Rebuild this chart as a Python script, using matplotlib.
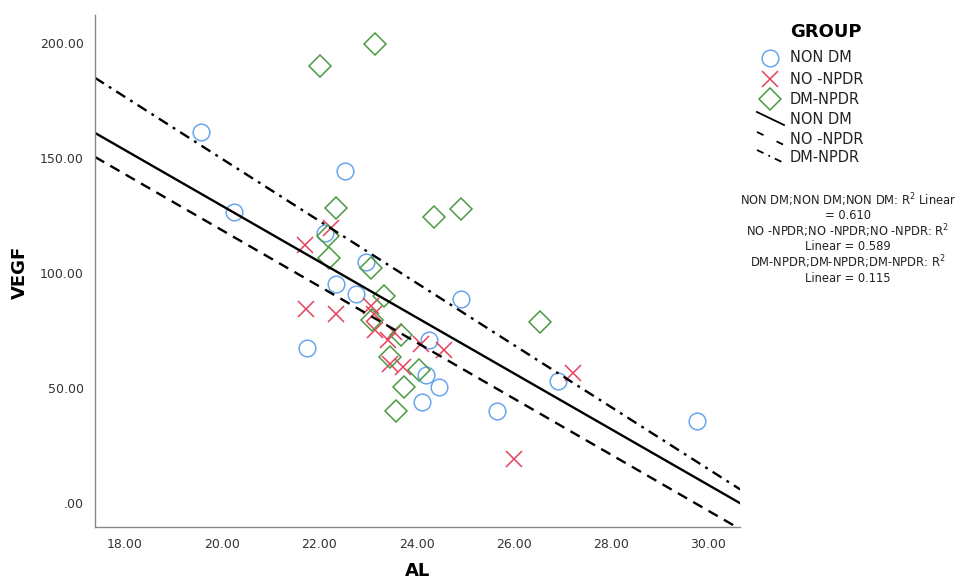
import numpy as np
import matplotlib
matplotlib.use('Agg')
import matplotlib.pyplot as plt

# NON DM
non_dm_al = [19.57, 20.25, 22.52, 22.12, 21.75, 22.33, 22.76, 22.95, 24.91, 24.25,
             24.19, 24.45, 24.12, 25.65, 26.91, 29.77]
non_dm_vegf = [161.3, 126.5, 144.3, 117.4, 67.4, 95.2, 90.9, 104.8, 88.7, 70.9,
               55.7, 50.4, 43.9, 40.0, 53.0, 35.7]

# NO -NPDR
no_npdr_al = [21.71, 21.73, 22.23, 22.35, 23.07, 23.13, 23.15, 23.40, 23.53, 23.46,
              23.71, 24.08, 24.56, 26.00, 27.22]
no_npdr_vegf = [112.2, 84.3, 119.6, 82.2, 85.7, 82.2, 75.2, 70.9, 74.3, 60.4,
                59.1, 69.1, 66.5, 19.1, 56.5]

# DM-NPDR
dm_npdr_al = [22.02, 23.15, 22.33, 22.17, 24.35, 24.91, 26.54, 22.19, 23.05, 23.32,
              23.09, 23.67, 23.46, 24.04, 23.73, 23.57]
dm_npdr_vegf = [190.0, 199.6, 128.3, 116.0, 124.3, 127.8, 78.7, 106.5, 102.2, 90.0,
                79.6, 73.0, 63.5, 57.8, 50.4, 40.0]

# fit lines (intercept, slope) as drawn in the chart
fit_non_dm = (371.5, -12.12)
fit_no_npdr = (362.1, -12.18)
fit_dm_npdr = (418.9, -13.47)

groups = ['NON DM', 'NO -NPDR', 'DM-NPDR']
r2_values = ['0.610', '0.589', '0.115']

blue = '#6aa6ee'
red = '#e8405a'
green = '#4b9a44'
dash_ls = (0, (4.5, 3))
dashdot_ls = (0, (4.5, 2.5, 1.2, 2.5))


def main():
    fig = plt.figure(figsize=(9.69, 5.83), dpi=100)
    ax = fig.add_axes([0.098, 0.096, 0.666, 0.878])

    ax.plot(non_dm_al, non_dm_vegf, 'o', ms=12, mfc='none', mec=blue, mew=1.1)
    ax.plot(no_npdr_al, no_npdr_vegf, 'x', ms=11, mec=red, mew=1.1)
    ax.plot(dm_npdr_al, dm_npdr_vegf, 'D', ms=11, mfc='none', mec=green, mew=1.1)

    xlim = (17.38, 30.66)
    xs = np.array(xlim)
    ax.plot(xs, fit_non_dm[0] + fit_non_dm[1] * xs, color='black', lw=1.7, ls='-')
    ax.plot(xs, fit_no_npdr[0] + fit_no_npdr[1] * xs, color='black', lw=1.7, ls=dash_ls)
    ax.plot(xs, fit_dm_npdr[0] + fit_dm_npdr[1] * xs, color='black', lw=1.7, ls=dashdot_ls)

    ax.set_xlim(*xlim)
    ax.set_ylim(-10.4, 212)
    ax.set_xticks(np.arange(18, 31, 2))
    ax.set_xticklabels(['%.2f' % v for v in np.arange(18, 31, 2)])
    ax.set_yticks(np.arange(0, 201, 50))
    ax.set_yticklabels(['.00', '50.00', '100.00', '150.00', '200.00'])
    ax.tick_params(length=0, labelsize=9, colors='#333333', pad=8)
    for s in ['top', 'right']:
        ax.spines[s].set_visible(False)
    for s in ['left', 'bottom']:
        ax.spines[s].set_color('#888888')
        ax.spines[s].set_linewidth(1.0)

    # overlay in pixel space for labels and legend
    lax = fig.add_axes([0, 0, 1, 1])
    lax.set_xlim(0, 969)
    lax.set_ylim(583, 0)
    lax.axis('off')
    lax.text(418, 571, 'AL', fontsize=13, fontweight='bold', ha='center', va='center')
    lax.text(20, 272, 'VEGF', fontsize=13, fontweight='bold', ha='center', va='center',
             rotation=90)

    lax.text(826, 32, 'GROUP', fontsize=13, fontweight='bold', ha='center', va='center')
    rows = [58, 79, 99, 119, 139, 157]
    lax.plot(770, rows[0], 'o', ms=12, mfc='none', mec=blue, mew=1.1)
    lax.plot(770, rows[1], 'x', ms=11, mec=red, mew=1.1)
    lax.plot(770, rows[2], 'D', ms=11, mfc='none', mec=green, mew=1.1)
    lax.plot([757, 784], [rows[3] - 7, rows[3] + 6], color='black', lw=1.3, ls='-')
    lax.plot([757, 784], [rows[4] - 7, rows[4] + 6], color='black', lw=1.3, ls=(0, (4, 8)))
    lax.plot([757, 784], [rows[5] - 7, rows[5] + 6], color='black', lw=1.3, ls=(0, (4, 3, 1, 3)))
    names = groups + groups
    for y, name in zip(rows, names):
        lax.text(790, y, name, fontsize=10.5, ha='left', va='center', color='#222222')

    r2_lines = [
        'NON DM;NON DM;NON DM: R$^2$ Linear', '= ' + r2_values[0],
        'NO -NPDR;NO -NPDR;NO -NPDR: R$^2$', 'Linear = ' + r2_values[1],
        'DM-NPDR;DM-NPDR;DM-NPDR: R$^2$', 'Linear = ' + r2_values[2],
    ]
    for i, t in enumerate(r2_lines):
        lax.text(848, 200 + i * 15.6, t, fontsize=8.3, ha='center', va='center', color='#222222')

    fig.savefig('out.png', dpi=100)


if __name__ == '__main__':
    plt.close('all')
    main()
